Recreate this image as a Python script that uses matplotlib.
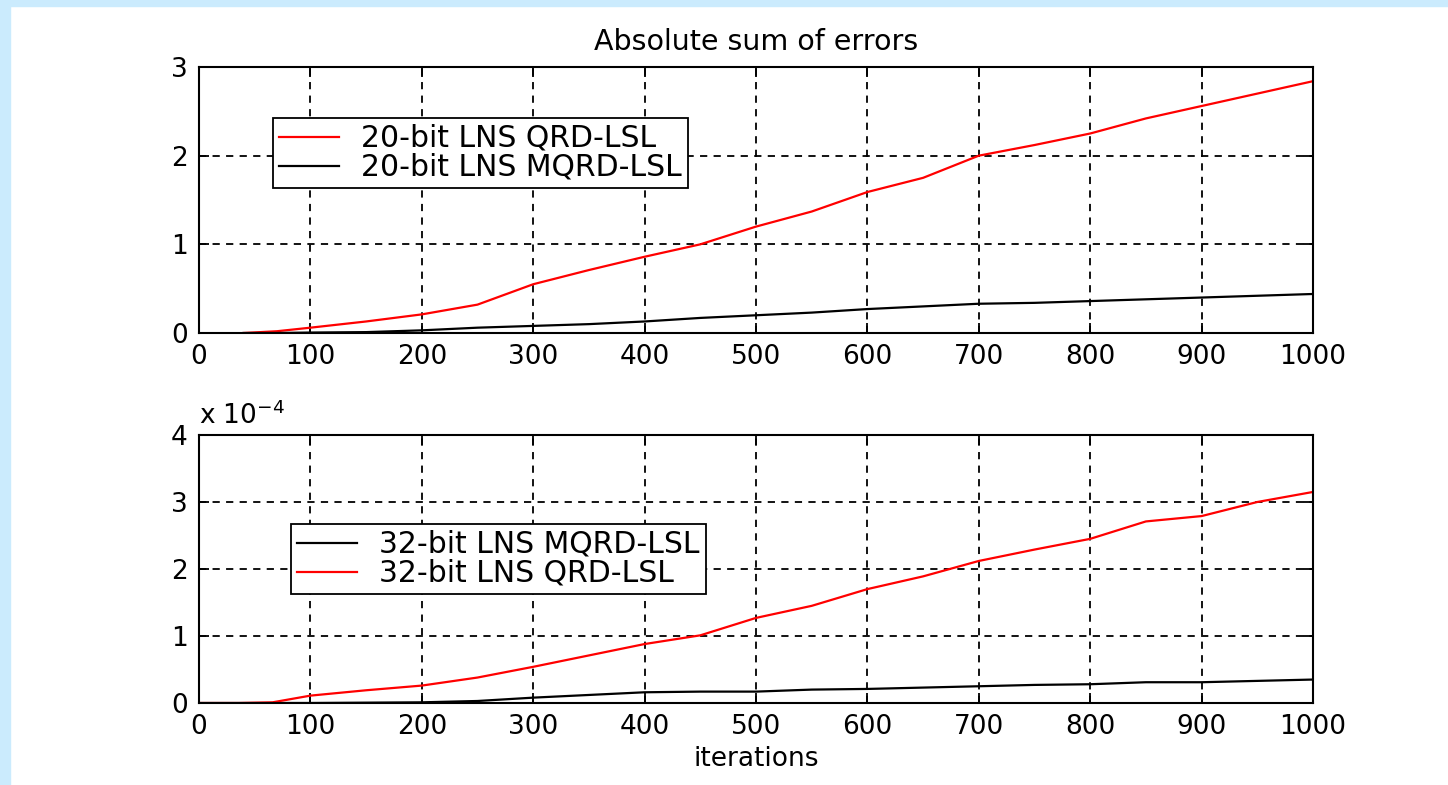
import matplotlib
matplotlib.use("Agg")
import matplotlib.pyplot as plt
from matplotlib.patches import Rectangle

# ---- data ----
top_x = [40, 70, 100, 150, 200, 250, 300, 350, 400, 450, 500, 550, 600, 650, 700, 750, 800, 850, 900, 950, 1000]
top_qrd = [0, 0.02, 0.06, 0.13, 0.21, 0.32, 0.55, 0.71, 0.86, 1.0, 1.2, 1.37, 1.59, 1.75, 2.0, 2.12, 2.25, 2.42, 2.56, 2.7, 2.84]
top_mqrd = [0, 0.0, 0.005, 0.01, 0.03, 0.06, 0.08, 0.10, 0.13, 0.17, 0.2, 0.23, 0.27, 0.3, 0.33, 0.34, 0.36, 0.38, 0.40, 0.42, 0.44]

bot_x = [0, 36, 66, 100, 150, 200, 250, 300, 350, 400, 450, 500, 550, 600, 650, 700, 750, 800, 850, 900, 950, 1000]
bot_qrd = [0, 0, 0.01, 0.11, 0.19, 0.26, 0.38, 0.54, 0.71, 0.88, 1.01, 1.27, 1.45, 1.70, 1.89, 2.12, 2.29, 2.45, 2.71, 2.79, 3.0, 3.15]
bot_mqrd = [0, 0, 0, 0, 0.005, 0.01, 0.03, 0.08, 0.12, 0.16, 0.17, 0.17, 0.2, 0.21, 0.23, 0.25, 0.27, 0.28, 0.31, 0.31, 0.33, 0.35]

x_ticks = [0, 100, 200, 300, 400, 500, 600, 700, 800, 900, 1000]
top_yticks = [0, 1, 2, 3]
bot_yticks = [0, 1, 2, 3, 4]

title = "Absolute sum of errors"
xlabel = "iterations"
top_labels = ["20-bit LNS QRD-LSL", "20-bit LNS MQRD-LSL"]
bot_labels = ["32-bit LNS MQRD-LSL", "32-bit LNS QRD-LSL"]

plt.rcParams['font.family'] = ['DejaVu Sans']
FS = 19
LFS = 21.5

fig = plt.figure(figsize=(14.48, 7.85), dpi=100, facecolor='white')
blue = '#cbebfd'
fig.patches.append(Rectangle((0, 1 - 6/785), 1, 6/785, transform=fig.transFigure, color=blue, zorder=0))
fig.patches.append(Rectangle((0, 0), 10/1448, 1, transform=fig.transFigure, color=blue, zorder=0))

ax1 = fig.add_axes([199/1448, 1 - 333/785, 1114/1448, 266/785])
ax2 = fig.add_axes([199/1448, 1 - 703/785, 1114/1448, 268/785])

def style(ax, yticks):
    ax.set_xlim(0, 1000)
    ax.set_ylim(yticks[0], yticks[-1])
    ax.set_xticks(x_ticks)
    ax.set_yticks(yticks)
    ax.grid(True, color='black', linestyle=(0, (4, 3.5)), linewidth=1.3)
    ax.tick_params(direction='in', length=7, width=1.3, top=True, right=True,
                   labelsize=FS, pad=8, colors='black')
    for s in ax.spines.values():
        s.set_linewidth(1.5)
        s.set_color('black')
    ax.set_axisbelow(True)

def make_legend(ax, anchor):
    leg = ax.legend(loc='upper left', bbox_to_anchor=anchor,
                    borderaxespad=0, fancybox=False, edgecolor='black', framealpha=1,
                    fontsize=LFS, handlelength=2.0, labelspacing=0.0, borderpad=0.2,
                    handletextpad=0.75)
    leg.get_frame().set_linewidth(1.3)
    return leg

l1, = ax1.plot(top_x, top_qrd, color='red', lw=1.6, label=top_labels[0])
l2, = ax1.plot(top_x, top_mqrd, color='black', lw=1.6, label=top_labels[1])
style(ax1, top_yticks)
ax1.set_title(title, fontsize=20.5, pad=12)
make_legend(ax1, ((273-199)/1114, (333-118)/266))

m1, = ax2.plot(bot_x, bot_mqrd, color='black', lw=1.6, label=bot_labels[0])
m2, = ax2.plot(bot_x, bot_qrd, color='red', lw=1.6, label=bot_labels[1])
style(ax2, bot_yticks)
ax2.set_xlabel(xlabel, fontsize=FS, labelpad=4)
make_legend(ax2, ((291-199)/1114, (703-524)/268))
ax2.text(0.0, 1.02, r"x 10$^{-4}$", transform=ax2.transAxes, fontsize=FS,
         ha='left', va='bottom')

fig.savefig("out.png", dpi=100, facecolor='white')
